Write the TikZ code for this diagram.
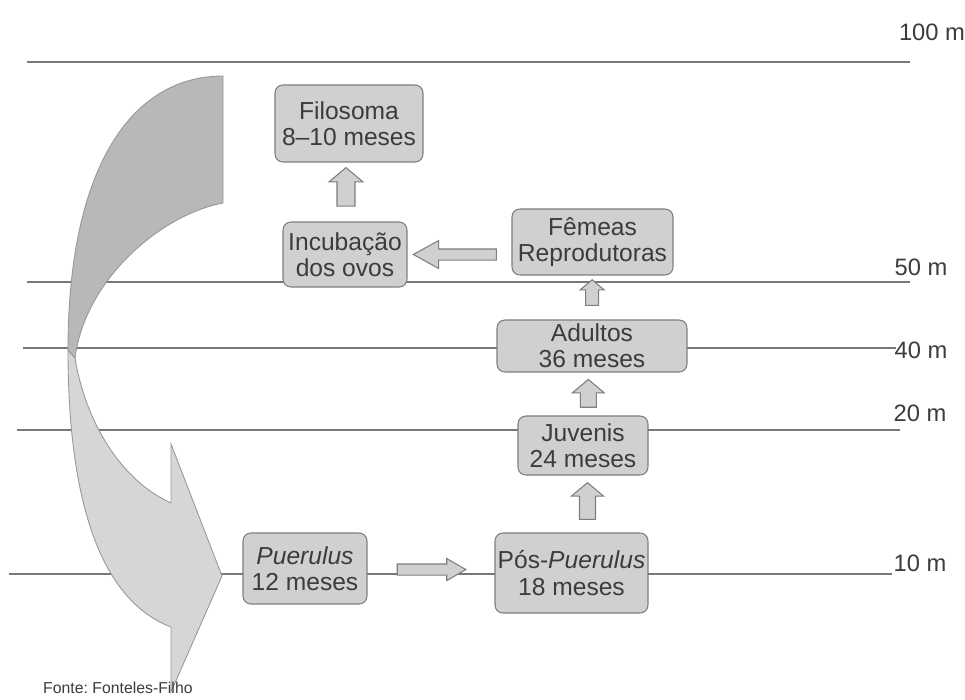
\documentclass[tikz,border=0pt]{standalone}
\usepackage{fontspec}
\setmainfont{Liberation Sans}
\usetikzlibrary{shapes,arrows,positioning,calc}

\definecolor{boxgray}{HTML}{D0D0D0}
\definecolor{edgegray}{HTML}{7E7E7E}
\definecolor{linegray}{HTML}{777777}
\definecolor{textgray}{HTML}{3C3C3C}
\definecolor{banddark}{HTML}{B8B8B8}
\definecolor{bandlight}{HTML}{D6D6D6}

\begin{document}
\frenchspacing
\begin{tikzpicture}[
    x=0.02cm, y=-0.02cm,
    stage/.style={rectangle, draw=edgegray, fill=boxgray, line width=0.6pt, rounded corners=4.5pt, align=center, inner sep=0pt, text=textgray, font=\fontsize{14}{15}\selectfont},
    depth/.style={draw=linegray, line width=0.6pt},
    mlabel/.style={text=textgray, font=\fontsize{13.5}{15}\selectfont},
    band/.style={draw=edgegray!80, line width=0.5pt},
    vblk/.style={single arrow, draw=edgegray, fill=boxgray, line width=0.6pt, minimum size=0pt, anchor=tail, rotate=90, inner ysep=.16cm, single arrow head extend=.16cm, single arrow tip angle=100},
    hblk/.style={single arrow, draw=edgegray, fill=boxgray, line width=0.6pt, minimum size=0pt, anchor=tail, inner ysep=.1cm}
]
\useasboundingbox (0,0) rectangle (965,700);

% Depth lines
\draw[depth] (27,62) -- (910,62);
\draw[depth] (27,282) -- (910,282);
\draw[depth] (23,348) -- (896,348);
\draw[depth] (17,430) -- (900,430);
\draw[depth] (9,574) -- (892,574);

% Depth labels
\node[mlabel] (m100) at (932,32) {100 m};
\node[mlabel] (m50) at (921,267) {50 m};
\node[mlabel] (m40) at (921,350) {40 m};
\node[mlabel] (m20) at (920,413) {20 m};
\node[mlabel] (m10) at (920,563) {10 m};

% Curved arrow - lower (light) part
\draw[band, fill=bandlight] (75,358) .. controls (85,420) and (120,480) .. (171,503)
    -- (171,444) -- (222,576) -- (171,692) -- (171,627)
    .. controls (100,600) and (68,500) .. (68,350) -- cycle;
% Curved arrow - upper (dark) part
\draw[band, fill=banddark] (223,76) .. controls (130,76) and (68,170) .. (68,350)
    -- (75,358) .. controls (85,280) and (160,215) .. (223,203) -- cycle;

% Stages
\node[stage, minimum width=2.96cm, minimum height=1.54cm] (filo) at (349,123.5) {Filosoma\\8--10 meses};
\node[stage, minimum width=2.48cm, minimum height=1.3cm] (incub) at (345,254.5) {Incubação\\dos ovos};
\node[stage, minimum width=3.22cm, minimum height=1.32cm] (fem) at (592.5,242) {Fêmeas\\Reprodutoras};
\node[stage, minimum width=3.8cm, minimum height=1.04cm] (adu) at (592,346) {Adultos\\36 meses};
\node[stage, minimum width=2.6cm, minimum height=1.18cm] (juv) at (583,445.5) {Juvenis\\24 meses};
\node[stage, minimum width=2.48cm, minimum height=1.42cm] (puer) at (305,568.5) {\textit{Puerulus}\\12 meses};
\node[stage, minimum width=3.06cm, minimum height=1.6cm] (pos) at (571.5,573) {Pós-\textit{Puerulus}\\18 meses};

% Block arrows between stages
\path (puer.east) -- node[hblk, pos=.23, inner xsep=.58cm, single arrow head extend=.11cm, single arrow tip angle=60] {} (pos.west);
\path ([xshift=.32cm]pos.north) -- node[vblk, pos=.22, inner xsep=.29cm, inner ysep=.15cm] {} ([xshift=.09cm]juv.south);
\path ([xshift=.09cm]juv.north) -- node[vblk, pos=.18, inner xsep=.2cm, inner ysep=.15cm] {} (adu.south);
\path (adu.north) -- node[vblk, pos=.31, inner xsep=.19cm, inner ysep=.12cm, single arrow head extend=.11cm] {} (fem.south);
\path (fem.west |- incub.east) -- node[hblk, rotate=180, pos=.14, inner xsep=.72cm, single arrow head extend=.17cm, single arrow tip angle=58] {} (incub.east);
\path (incub.north) -- node[vblk, pos=.25, inner xsep=.3cm, inner ysep=.17cm] {} (filo.south);

% Source
\node[anchor=west, text=textgray, font=\fontsize{9}{10}\selectfont] (src) at (37,688) {Fonte: Fonteles-Filho};

\end{tikzpicture}
\end{document}
